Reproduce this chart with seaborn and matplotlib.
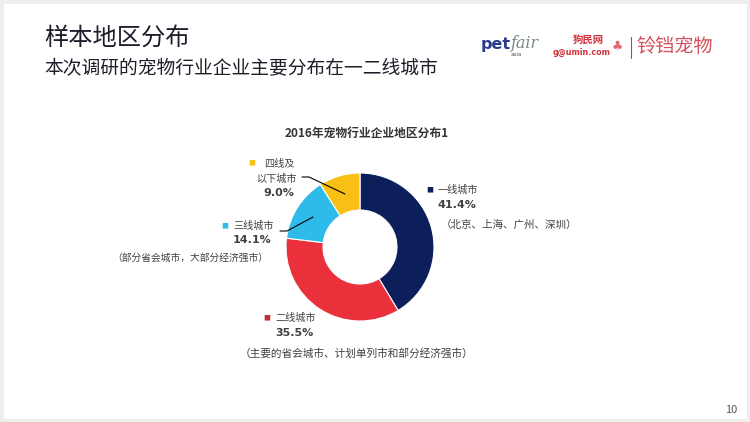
import matplotlib
matplotlib.use("Agg")
import matplotlib.pyplot as plt
import seaborn as sns
from matplotlib.patches import Rectangle

categories = ["一线城市", "二线城市", "三线城市", "四线及以下城市"]
values = [41.4, 35.5, 14.1, 9.0]
pct_labels = ["41.4%", "35.5%", "14.1%", "9.0%"]
notes = ["（北京、上海、广州、深圳）", "（主要的省会城市、计划单列市和部分经济强市）",
         "（部分省会城市，大部分经济强市）", ""]
colors = ["#0c1f5a", "#e9303b", "#2ebbe9", "#f8bf15"]

sns.set_theme(style="white")
plt.rcParams['font.family'] = ['Noto Sans CJK SC', 'DejaVu Sans']

W, H = 750, 422
fig = plt.figure(figsize=(7.5, 4.22), dpi=100)
fig.patch.set_facecolor("white")

def fx(x):
    return x / W

def fy(y):
    return 1 - y / H

# slide frame
fig.patches.append(Rectangle((0, 0), 1, 1, transform=fig.transFigure, fill=False,
                             edgecolor="#eeeeee", linewidth=5))

# pie
cx, cy, R = 360, 247, 74
ax = fig.add_axes([fx(cx - R), fy(cy + R), 2 * R / W, 2 * R / H])
ax.pie(values, colors=colors, startangle=90, counterclock=False, radius=1.0,
       wedgeprops=dict(width=0.5, edgecolor="white", linewidth=0.8))
ax.set_xlim(-1, 1)
ax.set_ylim(-1, 1)
ax.set_aspect("auto")
ax.axis("off")

# titles
fig.text(fx(44), fy(38), "样本地区分布", fontsize=17.5, color="#1e1e2a", va="center", ha="left")
fig.text(fx(44), fy(69), "本次调研的宠物行业企业主要分布在一二线城市", fontsize=13.5,
         color="#1e1e2a", va="center", ha="left")
fig.text(fx(367), fy(133), "2016年宠物行业企业地区分布1", fontsize=8.5, fontweight="bold",
         color="#333333", va="center", ha="center")

tc = "#404040"
fs = 7.3
# 一线
fig.text(fx(430), fy(190), "■", fontsize=5, color=colors[0], va="center", ha="center")
fig.text(fx(438), fy(190), categories[0], fontsize=fs, color=tc, va="center", ha="left")
fig.text(fx(437), fy(205), pct_labels[0], fontsize=8, fontweight="bold", color=tc,
         va="center", ha="left", family="DejaVu Sans")
fig.text(fx(441), fy(225), notes[0], fontsize=7.6, color=tc, va="center", ha="left")
# 二线
fig.text(fx(267), fy(318), "■", fontsize=5, color="#c0303a", va="center", ha="center")
fig.text(fx(275), fy(318), categories[1], fontsize=fs, color=tc, va="center", ha="left")
fig.text(fx(275), fy(333), pct_labels[1], fontsize=8, fontweight="bold", color=tc,
         va="center", ha="left", family="DejaVu Sans")
fig.text(fx(240), fy(353), notes[1], fontsize=7.7, color=tc, va="center", ha="left")
# 三线
fig.text(fx(225), fy(226), "■", fontsize=5, color=colors[2], va="center", ha="center")
fig.text(fx(233), fy(226), categories[2], fontsize=fs, color=tc, va="center", ha="left")
fig.text(fx(233), fy(240), pct_labels[2], fontsize=8, fontweight="bold", color=tc,
         va="center", ha="left", family="DejaVu Sans")
fig.text(fx(268), fy(258), notes[2], fontsize=7.0, color=tc, va="center", ha="right")
# 四线
fig.text(fx(252), fy(163), "■", fontsize=5, color=colors[3], va="center", ha="center")
fig.text(fx(264), fy(164), "四线及", fontsize=fs, color=tc, va="center", ha="left")
fig.text(fx(257), fy(179), "以下城市", fontsize=fs, color=tc, va="center", ha="left")
fig.text(fx(263), fy(193), pct_labels[3], fontsize=8, fontweight="bold", color=tc,
         va="center", ha="left", family="DejaVu Sans")

# leader lines
fig.add_artist(plt.Line2D([fx(302), fx(309), fx(345)], [fy(177), fy(177), fy(194)],
                          color="black", linewidth=0.8))
fig.add_artist(plt.Line2D([fx(280), fx(287), fx(313)], [fy(231), fy(231), fy(217)],
                          color="black", linewidth=0.8))

# logos
fig.text(fx(481), fy(45), "pet", fontsize=11.5, fontweight="bold", color="#2a3a8c",
         va="center", ha="left", family="DejaVu Sans")
fig.text(fx(511), fy(43), "fair", fontsize=11.5, style="italic", color="#7a8a88",
         va="center", ha="left", family="DejaVu Serif")
fig.text(fx(511), fy(55), "asia", fontsize=4, color="#555555", va="center", ha="left",
         family="DejaVu Sans")
fig.text(fx(588), fy(40), "狗民网", fontsize=7.5, fontweight="bold", color="#d2323c",
         va="center", ha="center")
fig.text(fx(582), fy(52), "g@umin.com", fontsize=5.8, fontweight="bold", color="#d2323c",
         va="center", ha="center", family="DejaVu Sans")
fig.text(fx(617), fy(46), "♣", fontsize=9, color="#e06a70", va="center", ha="center",
         family="DejaVu Sans")
fig.add_artist(plt.Line2D([fx(631), fx(631)], [fy(37), fy(58)], color="#c04050", linewidth=0.8))
fig.text(fx(636), fy(47), "铃铛宠物", fontsize=13.8, color="#d4505a", va="center", ha="left")

# page number
fig.text(fx(737), fy(410), "10", fontsize=8, color="#555555", va="center", ha="right")

fig.savefig("out.png", dpi=100, facecolor="white")
